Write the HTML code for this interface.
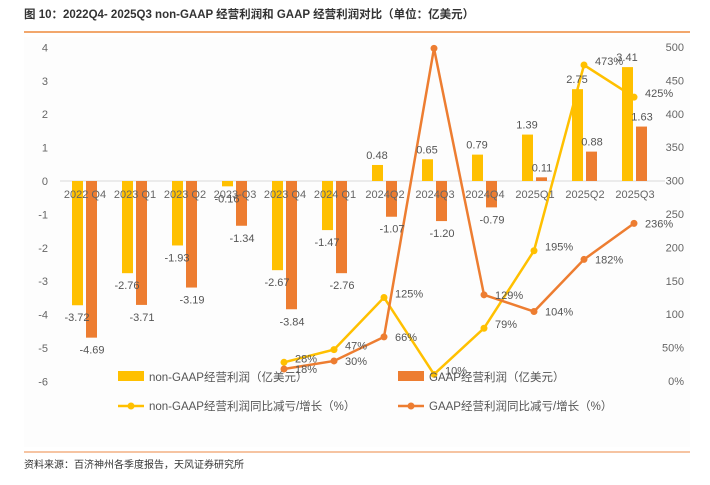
<!DOCTYPE html>
<html><head><meta charset="utf-8"><style>
body{margin:0;background:#fff;}
svg text{font-family:"Liberation Sans","Noto Sans CJK SC",sans-serif;}
</style></head><body>
<svg width="710" height="480" xmlns="http://www.w3.org/2000/svg">
<text x="24" y="18" font-size="11.5" font-weight="bold" fill="#333">图 10：2022Q4- 2025Q3 non-GAAP 经营利润和 GAAP 经营利润对比（单位：亿美元）</text>
<line x1="24" y1="32" x2="690" y2="32" stroke="#EE8A3C" stroke-width="1.5"/>
<rect x="24" y="37" width="666" height="410" fill="#fdfdfd"/>
<g id="axes"></g>
<g id="bars"></g>
<g id="lines"></g>
<g id="labels"></g>
<g>
<rect x="118" y="371" width="26" height="10" fill="#FFC000"/>
<text x="149" y="381" font-size="11.5" fill="#555">non-GAAP经营利润（亿美元）</text>
<rect x="398" y="371" width="26" height="10" fill="#ED7D31"/>
<text x="429" y="381" font-size="11.5" fill="#555">GAAP经营利润（亿美元）</text>
<line x1="118" y1="406" x2="144" y2="406" stroke="#FFC000" stroke-width="2.5"/><circle cx="131" cy="406" r="3.5" fill="#FFC000"/>
<text x="149" y="410" font-size="11.5" fill="#555">non-GAAP经营利润同比减亏/增长（%）</text>
<line x1="398" y1="406" x2="424" y2="406" stroke="#ED7D31" stroke-width="2.5"/><circle cx="411" cy="406" r="3.5" fill="#ED7D31"/>
<text x="429" y="410" font-size="11.5" fill="#555">GAAP经营利润同比减亏/增长（%）</text>
</g>
<line x1="24" y1="452" x2="690" y2="452" stroke="#F4B183" stroke-width="1.5"/>
<text x="24" y="468" font-size="10" fill="#333">资料来源：百济神州各季度报告，天风证券研究所</text>
</svg>
<script>
const categories=["2022 Q4","2023 Q1","2023 Q2","2023-Q3","2023 Q4","2024 Q1","2024Q2","2024Q3","2024Q4","2025Q1","2025Q2","2025Q3"];
const nonGaap=[-3.72,-2.76,-1.93,-0.16,-2.67,-1.47,0.48,0.65,0.79,1.39,2.75,3.41];
const gaap=[-4.69,-3.71,-3.19,-1.34,-3.84,-2.76,-1.07,-1.20,-0.79,0.11,0.88,1.63];
const nonGaapYoy=[null,null,null,null,28,47,125,10,79,195,473,425];
const gaapYoy=[null,null,null,null,18,30,66,498,129,104,182,236];
const gaapYoyShowLabel=[0,0,0,0,1,1,1,0,1,1,1,1];
const leftTicks=[4,3,2,1,0,-1,-2,-3,-4,-5,-6];
const rightTicks=[500,450,400,350,300,250,200,150,100,50,0];
const NS="http://www.w3.org/2000/svg";
const x=i=>85+50*i;
const yL=v=>181-v*33.4;
const yR=v=>381-v*0.668;
function mk(t,a,p){const e=document.createElementNS(NS,t);for(const k in a)e.setAttribute(k,a[k]);document.getElementById(p).appendChild(e);return e;}
leftTicks.forEach(v=>{const t=mk('text',{x:48,y:yL(v)+4,'font-size':11,fill:'#666','text-anchor':'end'},'axes');t.textContent=v;

});
rightTicks.forEach(v=>{const t=mk('text',{x:684,y:yR(v)+4,'font-size':11,fill:'#666','text-anchor':'end'},'axes');t.textContent=v===0||v===50?v+'%':v;

});
const zl=mk('line',{x1:60,y1:yL(0),x2:665,y2:yL(0),stroke:'#d9d9d9'},'axes');


categories.forEach((c,i)=>{
const a=nonGaap[i],b=gaap[i];
const r1=mk('rect',{x:x(i)-13,y:Math.min(yL(a),yL(0)),width:11,height:Math.abs(yL(a)-yL(0)),fill:'#FFC000'},'bars');


const r2=mk('rect',{x:x(i)+1,y:Math.min(yL(b),yL(0)),width:11,height:Math.abs(yL(b)-yL(0)),fill:'#ED7D31'},'bars');


const ct=mk('text',{x:x(i),y:yL(0)+17,'font-size':11,fill:'#666','text-anchor':'middle'},'labels');ct.textContent=c;


const l1=mk('text',{x:x(i)-8,y:a>=0?yL(a)-6:yL(a)+16,'font-size':11,fill:'#555','text-anchor':'middle'},'labels');l1.textContent=a.toFixed(2);


const l2=mk('text',{x:x(i)+7,y:b>=0?yL(b)-6:yL(b)+16,'font-size':11,fill:'#555','text-anchor':'middle'},'labels');l2.textContent=b.toFixed(2);


});
function line(arr,col,name,dy,show){
const pts=[];arr.forEach((v,i)=>{if(v!=null)pts.push([x(i)-1,yR(v),v,show?show[i]:1]);});
const pl=mk('polyline',{points:pts.map(p=>p[0]+','+p[1]).join(' '),fill:'none',stroke:col,'stroke-width':2.5},'lines');


pts.forEach(p=>{const c=mk('circle',{cx:p[0],cy:p[1],r:3.5,fill:col},'lines');


if(!p[3])return;
const t=mk('text',{x:p[0]+11,y:p[1]+dy,'font-size':11,fill:'#555'},'labels');t.textContent=p[2]+'%';

});
}
line(nonGaapYoy,'#FFC000','nongaap-yoy',0,null);
line(gaapYoy,'#ED7D31','gaap-yoy',4,gaapYoyShowLabel);
</script>
</body></html>
